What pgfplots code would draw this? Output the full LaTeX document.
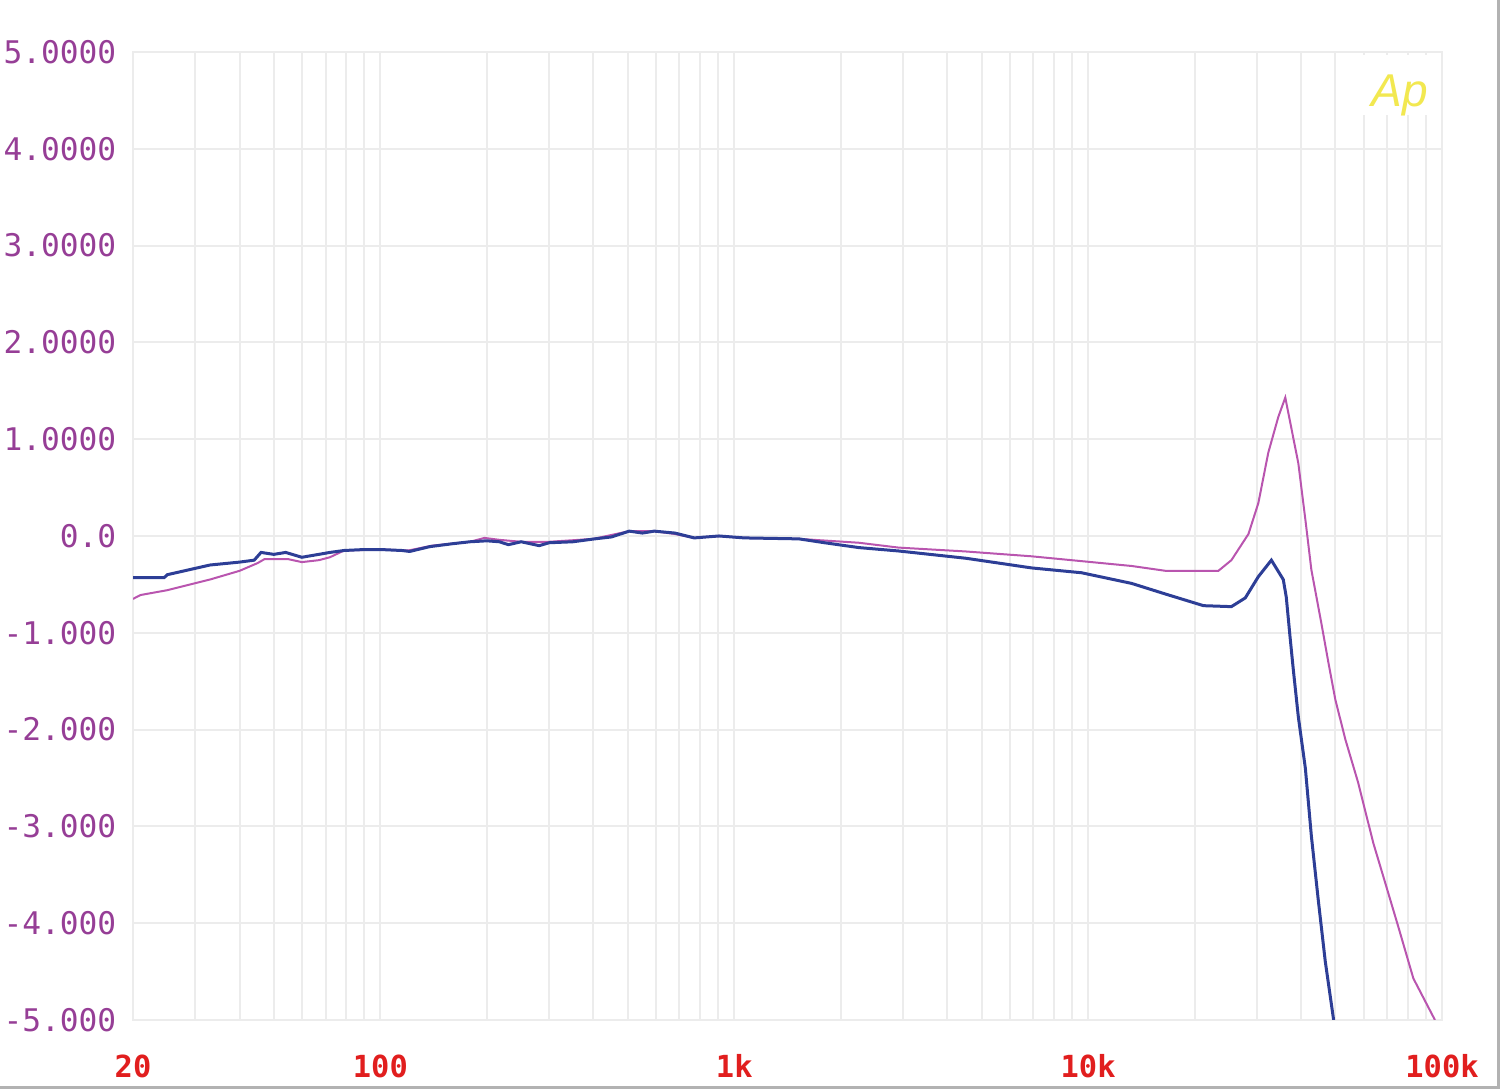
\documentclass[border=0pt]{standalone}
\usepackage{fontspec}
\setmonofont{DejaVu Sans Mono}
\newfontfamily\apfont{Liberation Sans}
\usepackage{pgfplots}
\pgfplotsset{compat=1.18}
\definecolor{ylab}{RGB}{150,62,150}
\definecolor{xlab}{RGB}{225,30,30}
\definecolor{pinkc}{RGB}{185,85,175}
\definecolor{bluec}{RGB}{45,62,150}
\definecolor{apy}{RGB}{242,232,80}
\definecolor{gridc}{RGB}{236,236,236}
\begin{document}
\begin{tikzpicture}
\useasboundingbox (-33.25pt,-17.25pt) rectangle (341.75pt,255pt);
\begin{axis}[
  at={(0,0)}, anchor=south west,
  scale only axis, width=327.25pt, height=242pt,
  xmode=log, xmin=20, xmax=100000, ymin=-5, ymax=5,
  xtick={20,100,1000,10000,100000},
  xticklabels={20,100,1k,10k,100k},
  minor xtick={30,40,50,60,70,80,90,200,300,400,500,600,700,800,900,2000,3000,4000,5000,6000,7000,8000,9000,20000,30000,40000,50000,60000,70000,80000,90000},
  ytick={-5,-4,-3,-2,-1,0,1,2,3,4,5},
  yticklabels={-5.000,-4.000,-3.000,-2.000,-1.000,0.0,1.0000,2.0000,3.0000,4.0000,5.0000},
  grid=both,
  major grid style={draw=gridc, line width=0.5pt},
  minor grid style={draw=gridc, line width=0.5pt},
  axis line style={draw=gridc, line width=0.5pt},
  major tick length=0pt, minor tick length=0pt,
  yticklabel style={font=\fontsize{7.8}{8}\selectfont\ttfamily, text=ylab, anchor=east, inner sep=0pt, xshift=-4pt},
  xticklabel style={font=\fontsize{7.6}{8}\selectfont\ttfamily\bfseries, text=xlab, anchor=north, inner sep=0pt, yshift=-8.5pt},
  clip=true,
]
\fill[white] (axis cs:52000,4.35) rectangle (axis cs:98000,4.97);
\node[text=apy, font=\apfont\itshape\fontsize{11.5}{12}\selectfont] at (axis cs:76000,4.55) {Ap};
\addplot[pinkc, line width=0.5pt] coordinates {
(20,-0.65) (21,-0.61) (25,-0.56) (33,-0.45) (40,-0.36) (45,-0.28) (47,-0.24) (55,-0.24) (60,-0.27) (67,-0.25) (72,-0.22) (79,-0.15) (100,-0.14) (120,-0.15) (140,-0.10) (179,-0.06) (197,-0.02) (217,-0.04) (250,-0.06) (300,-0.06) (400,-0.03) (505,0.05) (594,0.05) (680,0.02) (771,-0.02) (906,0.0) (1067,-0.02) (1524,-0.03) (2250,-0.07) (2912,-0.12) (4510,-0.16) (6920,-0.21) (9580,-0.26) (13270,-0.31) (16550,-0.36) (23340,-0.36) (25400,-0.25) (28380,0.02) (30270,0.34) (32290,0.86) (34470,1.23) (36070,1.43) (39270,0.75) (41100,0.17) (42740,-0.35) (45600,-0.9) (47760,-1.31) (49950,-1.69) (53300,-2.1) (57970,-2.55) (63930,-3.17) (69070,-3.58) (75300,-4.04) (82980,-4.57) (95500,-5.0)
};
\addplot[bluec, line width=0.75pt] coordinates {
(20,-0.43) (24.5,-0.43) (25,-0.40) (33,-0.30) (40,-0.27) (44,-0.25) (46,-0.17) (50,-0.19) (54,-0.17) (60,-0.22) (67,-0.19) (72,-0.17) (79,-0.15) (90,-0.14) (100,-0.14) (115,-0.15) (121,-0.16) (138,-0.11) (160,-0.08) (179,-0.06) (200,-0.05) (217,-0.06) (230,-0.09) (250,-0.06) (281,-0.10) (300,-0.07) (350,-0.06) (403,-0.03) (450,-0.01) (505,0.05) (550,0.03) (594,0.05) (680,0.03) (771,-0.02) (906,0.0) (1067,-0.02) (1524,-0.03) (1800,-0.07) (2250,-0.12) (2912,-0.155) (4510,-0.23) (6920,-0.33) (9580,-0.38) (13270,-0.49) (16550,-0.60) (21180,-0.72) (25400,-0.73) (27800,-0.64) (30270,-0.42) (32950,-0.25) (35600,-0.45) (36300,-0.63) (37200,-1.04) (38000,-1.38) (39270,-1.87) (41100,-2.40) (42740,-3.1) (44700,-3.76) (46800,-4.4) (49400,-5.0)
};
\end{axis}
\draw[gray!60, line width=0.8pt] (-33.25pt,-16.85pt) -- (341.35pt,-16.85pt) -- (341.35pt,255pt);
\end{tikzpicture}
\end{document}
